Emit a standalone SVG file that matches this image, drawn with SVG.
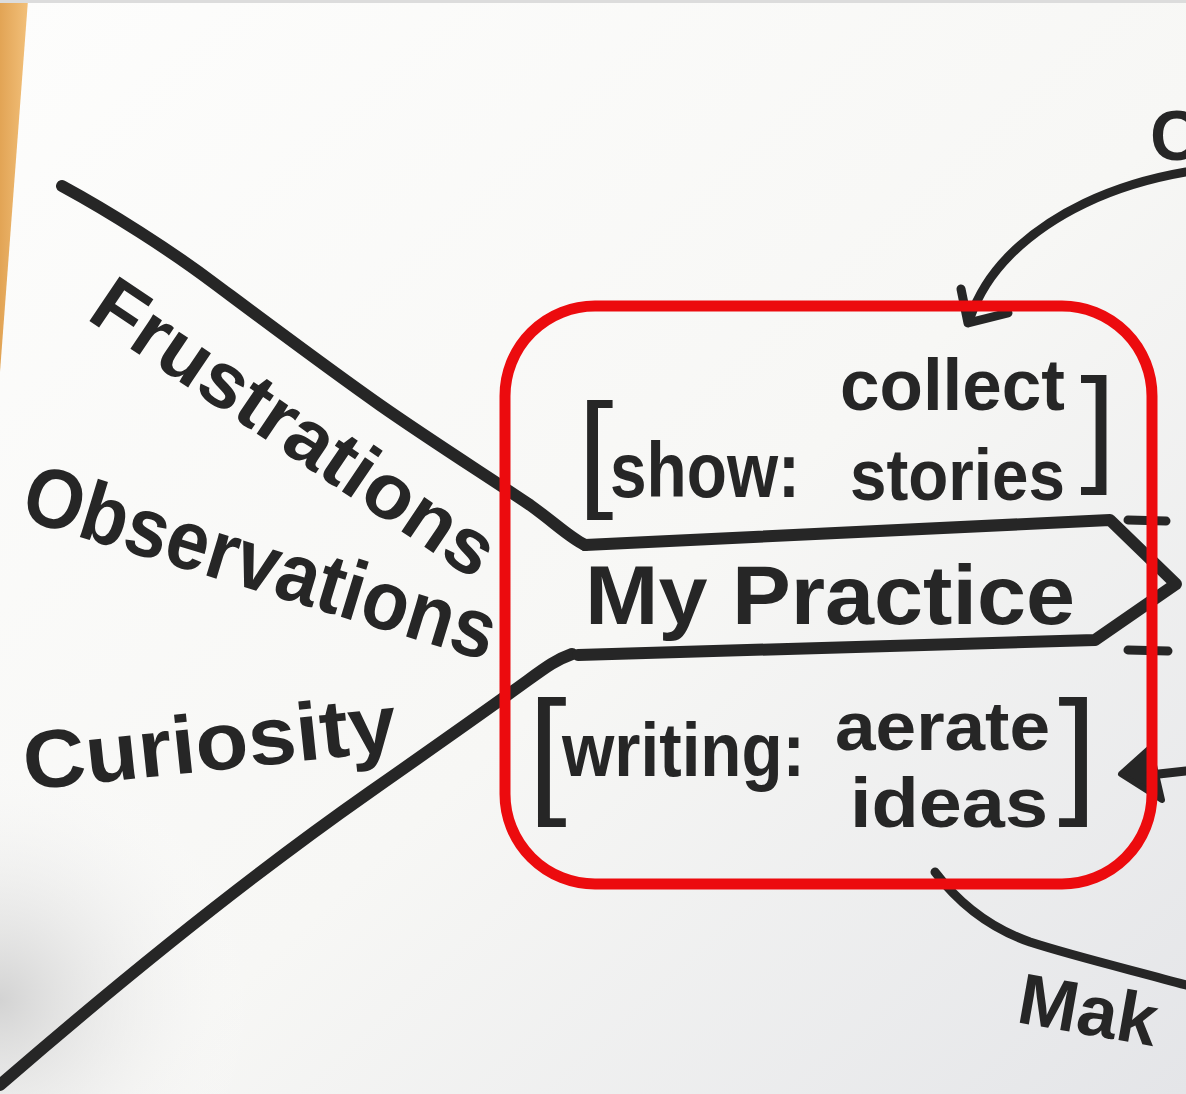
<svg xmlns="http://www.w3.org/2000/svg" width="1186" height="1094" viewBox="0 0 1186 1094">
<defs>
<linearGradient id="paper" x1="0" y1="0" x2="1" y2="1">
<stop offset="0" stop-color="#fdfdfc"/>
<stop offset="0.55" stop-color="#f7f7f5"/>
<stop offset="1" stop-color="#e4e5e8"/>
</linearGradient>
<radialGradient id="shadeL" cx="0" cy="1000" r="260" gradientUnits="userSpaceOnUse">
<stop offset="0" stop-color="#cfcfcf" stop-opacity="0.9"/>
<stop offset="1" stop-color="#ffffff" stop-opacity="0"/>
</radialGradient>
<linearGradient id="wood" x1="0" y1="0" x2="1" y2="0">
<stop offset="0" stop-color="#e2a455"/>
<stop offset="1" stop-color="#f2c07a"/>
</linearGradient>
</defs>
<style>
.ink{fill:none;stroke:#262626;stroke-width:12;stroke-linecap:round;stroke-linejoin:round}
.thin{fill:none;stroke:#262626;stroke-width:9;stroke-linecap:round;stroke-linejoin:round}
.hand{font-family:"Liberation Sans","Open Sans",sans-serif;font-weight:700;fill:#262626}
.brk{font-family:"Liberation Sans",sans-serif;font-weight:400;fill:#262626}
.frame{fill:none;stroke:#ec0b0e;stroke-width:11}
</style>
<rect x="0" y="0" width="1186" height="1094" fill="url(#paper)"/>
<rect x="0" y="740" width="260" height="354" fill="url(#shadeL)"/>
<polygon points="0,0 28,0 0,372" fill="url(#wood)"/>
<rect x="0" y="0" width="1186" height="3" fill="#dcdcdc"/>

<g id="connectors">
<path class="ink" d="M62,186 C110,212 170,250 215,284 C270,325 330,370 380,405 C430,440 490,478 530,505 C555,523 570,538 585,545"/>
<path class="ink" d="M572,654 C555,660 545,668 520,686 C470,722 420,757 370,792 C280,855 150,955 0,1085"/>
<path class="thin" d="M1186,172 C1110,185 1050,215 1010,255 C990,275 978,295 970,318"/>
<path class="thin" d="M961,289 L968,323 L1008,313"/>
<path class="thin" d="M935,872 C960,905 990,928 1030,942 C1080,958 1140,972 1186,985"/>
<path class="thin" d="M1128,520 L1166,521"/>
<path class="thin" d="M1128,650 L1168,651"/>
<path d="M1121,774 L1150,748 L1162,800 Z" fill="#262626" stroke="#262626" stroke-width="6" stroke-linejoin="round"/>
<path class="thin" d="M1150,775 L1186,771"/>
</g>

<g id="practice">
<path class="ink" d="M585,545 L1110,520 L1176,584 L1095,640 L578,655"/>
<text class="hand" x="585" y="624" font-size="84" textLength="490" lengthAdjust="spacingAndGlyphs">My Practice</text>
</g>

<g id="show">
<text class="brk" x="578" y="493" font-size="128">[</text>
<text class="hand" x="610" y="497" font-size="78" textLength="190" lengthAdjust="spacingAndGlyphs">show:</text>
<text class="hand" x="840" y="410" font-size="72" textLength="225" lengthAdjust="spacingAndGlyphs">collect</text>
<text class="hand" x="850" y="500" font-size="72" textLength="215" lengthAdjust="spacingAndGlyphs">stories</text>
<text class="brk" x="1080" y="468" font-size="128">]</text>
</g>

<g id="writing">
<text class="brk" x="528" y="798" font-size="140">[</text>
<text class="hand" x="562" y="776" font-size="76" textLength="243" lengthAdjust="spacingAndGlyphs">writing:</text>
<text class="hand" x="835" y="750" font-size="68" textLength="215" lengthAdjust="spacingAndGlyphs">aerate</text>
<text class="hand" x="850" y="827" font-size="70" textLength="198" lengthAdjust="spacingAndGlyphs">ideas</text>
<text class="brk" x="1058" y="798" font-size="140">]</text>
</g>

<g id="frustrations">
<text class="hand" font-size="78" textLength="470" lengthAdjust="spacingAndGlyphs" transform="translate(85,318) rotate(34)">Frustrations</text>
</g>
<g id="observations">
<text class="hand" font-size="84" textLength="490" lengthAdjust="spacingAndGlyphs" transform="translate(18,518) rotate(17)">Observations</text>
</g>
<g id="curiosity">
<text class="hand" font-size="82" textLength="375" lengthAdjust="spacingAndGlyphs" transform="translate(26,790) rotate(-6)">Curiosity</text>
</g>

<g id="cycle-labels">
<text class="hand" x="1150" y="160" font-size="70">C</text>
<text class="hand" font-size="72" transform="translate(1015,1022) rotate(10)">Mak</text>
</g>

<g id="highlight">
<rect class="frame" x="505" y="306" width="647" height="578" rx="90" ry="90"/>
</g>
</svg>
